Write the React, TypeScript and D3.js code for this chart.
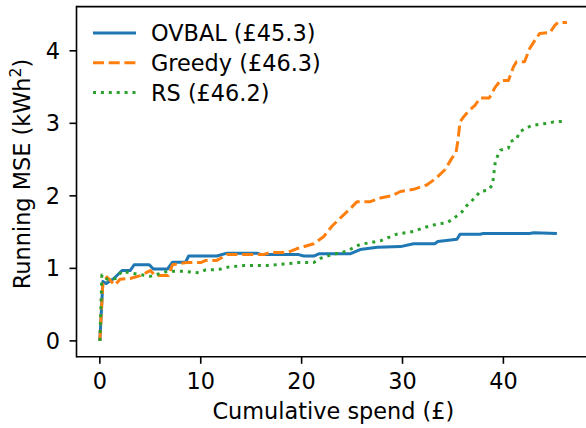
import React from 'react';
import * as d3 from 'd3';

const ovbalX = [0, 0.3, 0.63, 1.39, 2.2, 3.0, 3.4, 4.9, 5.3, 6.7, 7.2, 8.5, 8.8, 11.6, 12.6, 15.6, 16.0, 19.7, 20.2, 21.2, 21.7, 24.8, 25.8, 27.5, 29.8, 31.1, 33.2, 33.5, 35.4, 35.7, 37.7, 38.0, 42.6, 43.0, 45.3];
const ovbalY = [0, 0.82, 0.79, 0.86, 0.97, 0.97, 1.05, 1.05, 0.99, 0.99, 1.085, 1.085, 1.17, 1.17, 1.21, 1.21, 1.19, 1.19, 1.17, 1.17, 1.2, 1.2, 1.26, 1.29, 1.3, 1.34, 1.34, 1.37, 1.4, 1.47, 1.47, 1.48, 1.48, 1.49, 1.48];

const greedyX = [0, 0.3, 0.7, 1.5, 2.0, 3.0, 4.0, 5.0, 5.5, 6.8, 7.2, 8.6, 10.0, 10.5, 11.6, 12.6, 16.2, 16.9, 18.6, 19.5, 21.2, 22.2, 23.0, 23.8, 24.8, 25.5, 26.8, 27.8, 28.9, 29.8, 31.1, 32.4, 33.3, 34.2, 34.9, 35.3, 35.5, 35.7, 36.0, 36.5, 37.2, 37.7, 38.6, 39.2, 39.7, 40.5, 41.0, 41.3, 42.1, 42.6, 43.1, 43.6, 44.6, 45.1, 45.4, 46.3];
const greedyY = [0, 0.8, 0.88, 0.77, 0.85, 0.86, 0.9, 0.97, 0.9, 0.9, 1.05, 1.08, 1.08, 1.11, 1.11, 1.19, 1.19, 1.22, 1.22, 1.27, 1.34, 1.44, 1.58, 1.69, 1.82, 1.92, 1.92, 1.97, 2.0, 2.06, 2.09, 2.15, 2.24, 2.36, 2.52, 2.59, 2.77, 3.02, 3.08, 3.16, 3.25, 3.35, 3.35, 3.5, 3.59, 3.59, 3.78, 3.85, 3.85, 4.03, 4.14, 4.24, 4.25, 4.35, 4.39, 4.39];

const rsX = [0, 0.2, 0.73, 1.56, 2.2, 3.7, 5.0, 6.7, 8.3, 9.0, 9.8, 10.5, 11.3, 12.0, 12.8, 14.3, 16.6, 18.2, 19.7, 20.5, 21.2, 21.9, 22.8, 24.5, 25.8, 27.8, 29.4, 31.1, 32.1, 33.4, 34.4, 35.0, 35.9, 36.4, 37.0, 37.7, 38.5, 38.9, 39.0, 39.1, 39.2, 39.4, 39.7, 40.5, 40.7, 41.3, 41.6, 42.2, 42.8, 44.3, 45.0, 46.2];
const rsY = [0, 0.91, 0.85, 0.86, 0.96, 0.92, 0.89, 0.96, 0.96, 0.95, 0.94, 0.98, 0.98, 0.99, 1.02, 1.04, 1.04, 1.06, 1.08, 1.08, 1.08, 1.14, 1.18, 1.24, 1.33, 1.38, 1.47, 1.51, 1.56, 1.61, 1.63, 1.68, 1.78, 1.87, 1.95, 2.06, 2.08, 2.15, 2.24, 2.36, 2.47, 2.54, 2.63, 2.66, 2.75, 2.78, 2.88, 2.93, 2.97, 3.0, 3.02, 3.03];

const legendLabels = ['OVBAL (£45.3)', 'Greedy (£46.3)', 'RS (£46.2)'];
const xTicks = [0, 10, 20, 30, 40];
const yTicks = [0, 1, 2, 3, 4];

const font = 'DejaVu Sans, sans-serif';
const fs = 22.4;

export default function App() {
    const width = 586;
    const height = 428;

    // matplotlib style 5% margins around the data
    const xMax = 46.3;
    const yMax = 4.39;
    const xScale = d3.scaleLinear()
        .domain([-0.05 * xMax, xMax * 1.05])
        .range([76.5, 590.3]);
    const yScale = d3.scaleLinear()
        .domain([-0.05 * yMax, yMax * 1.05])
        .range([356.8, 6.6]);

    const line = d3.line<[number, number]>()
        .x(d => xScale(d[0]))
        .y(d => yScale(d[1]));

    const zip = (xs: number[], ys: number[]) => xs.map((x, i) => [x, ys[i]] as [number, number]);

    const series = [
        {pts: zip(ovbalX, ovbalY), color: '#1f77b4', dash: undefined},
        {pts: zip(greedyX, greedyY), color: '#ff7f0e', dash: '11,4.7'},
        {pts: zip(rsX, rsY), color: '#2ca02c', dash: '3,4.9'},
    ];

    const x0 = xScale.range()[0];
    const y0 = yScale.range()[0];
    const yTop = yScale.range()[1];

    return (
        <svg width={width} height={height}
             style={{position: 'absolute', left: 0, top: 0, background: '#fff'}}
             fontFamily={font}>
            <defs>
                <clipPath id="plot-clip">
                    <rect x={x0} y={yTop} width={xScale.range()[1] - x0} height={y0 - yTop}/>
                </clipPath>
            </defs>

            {/* lines */}
            <g clipPath="url(#plot-clip)">
                {series.map((s, i) => (
                    <path key={i} d={line(s.pts) || ''} fill="none" stroke={s.color}
                          strokeWidth={3} strokeDasharray={s.dash}
                          strokeLinecap="butt" strokeLinejoin="round"/>
                ))}
            </g>

            {/* spines */}
            <line x1={x0} x2={width} y1={y0} y2={y0} stroke="#000" strokeWidth={1.6}/>
            <line x1={x0} x2={width} y1={yTop} y2={yTop} stroke="#000" strokeWidth={1.6}/>
            <line x1={x0} x2={x0} y1={yTop - 0.8} y2={y0 + 0.8} stroke="#000" strokeWidth={1.6}/>

            {/* x ticks */}
            {xTicks.map(t => (
                <g key={'x' + t} transform={`translate(${xScale(t)},0)`}>
                    <line y1={y0} y2={y0 + 7} stroke="#000" strokeWidth={1.6}/>
                    <text y={389} textAnchor="middle" fontSize={fs} fill="#000">{t}</text>
                </g>
            ))}

            {/* y ticks */}
            {yTicks.map(t => (
                <g key={'y' + t} transform={`translate(0,${yScale(t)})`}>
                    <line x1={x0} x2={x0 - 7} stroke="#000" strokeWidth={1.6}/>
                    <text x={60} dy="0.36em" textAnchor="end" fontSize={fs} fill="#000">{t}</text>
                </g>
            ))}

            {/* axis labels */}
            <text x={333.4} y={419} textAnchor="middle" fontSize={fs} fill="#000">Cumulative spend (£)</text>
            <text transform="translate(29.5,174) rotate(-90)" textAnchor="middle" fontSize={fs} fill="#000">
                Running MSE (kWh<tspan fontSize={fs * 0.7} dy={-9}>2</tspan><tspan dy={9}>)</tspan>
            </text>

            {/* legend */}
            {series.map((s, i) => {
                const ly = 33 + i * 29.8;
                return (
                    <g key={'l' + i}>
                        <line x1={93} x2={136} y1={ly} y2={ly} stroke={s.color} strokeWidth={3}
                              strokeDasharray={s.dash} strokeLinecap="butt"/>
                        <text x={151} y={ly} dy="0.36em" fontSize={fs} fill="#000">{legendLabels[i]}</text>
                    </g>
                );
            })}
        </svg>
    );
}
